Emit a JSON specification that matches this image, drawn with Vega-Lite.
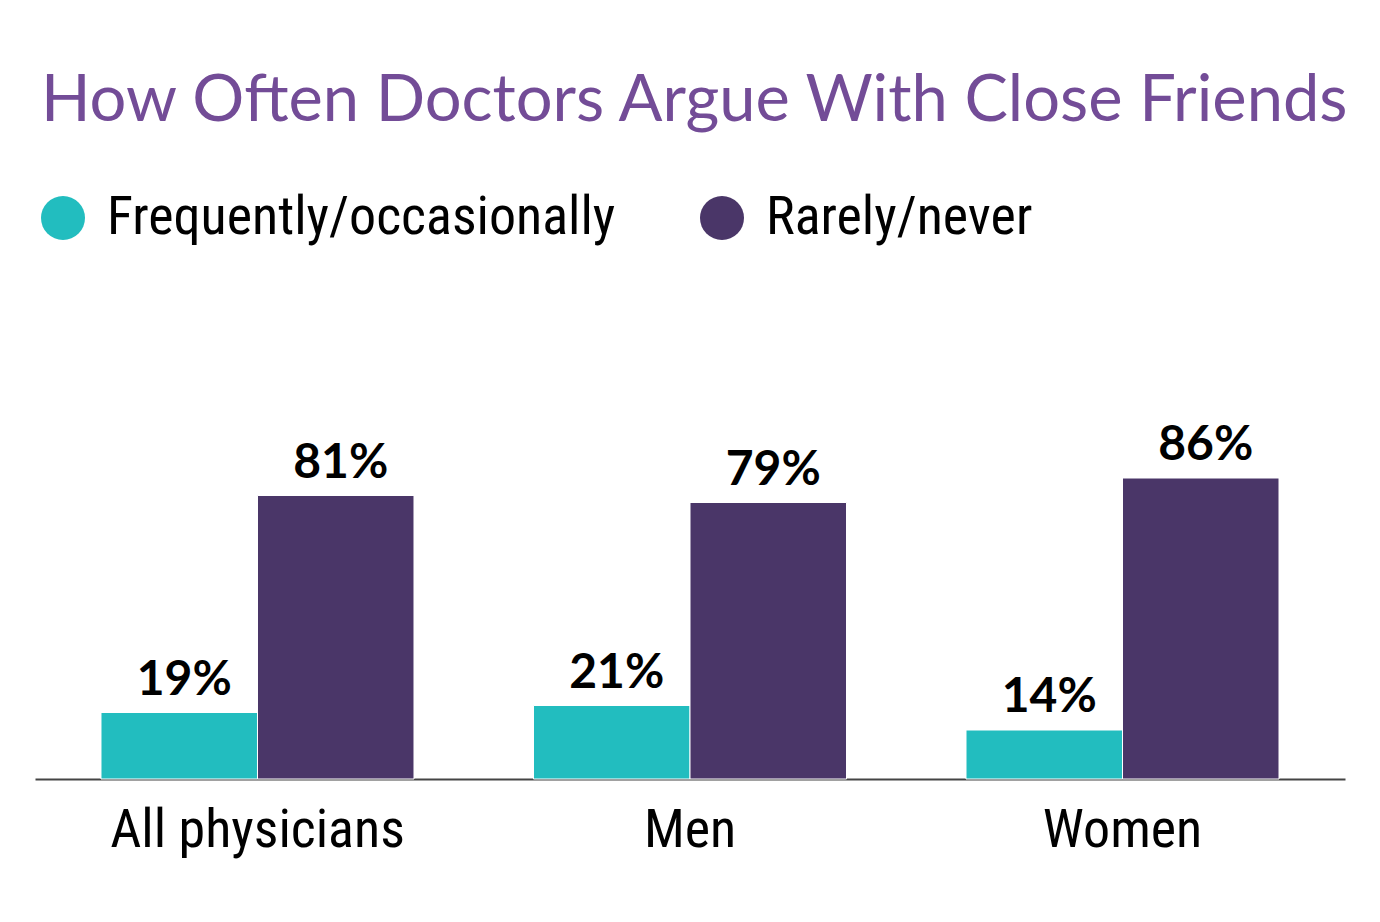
{
  "$schema": "https://vega.github.io/schema/vega-lite/v6.json",
  "width": 1310,
  "height": 350,
  "autosize": {"type": "none"},
  "padding": {"left": 35, "top": 429, "right": 35, "bottom": 143},
  "background": "white",
  "title": {
    "text": "How Often Doctors Argue With Close Friends",
    "anchor": "start",
    "frame": "group",
    "orient": "top",
    "font": "Lato",
    "fontSize": 65,
    "fontWeight": "normal",
    "color": "#734c97",
    "dx": 6,
    "baseline": "alphabetic",
    "offset": 5
  },
  "data": {
    "values": [
      {"group": "All physicians", "series": "Frequently/occasionally", "value": 19, "label": "19%"},
      {"group": "All physicians", "series": "Rarely/never", "value": 81, "label": "81%"},
      {"group": "Men", "series": "Frequently/occasionally", "value": 21, "label": "21%"},
      {"group": "Men", "series": "Rarely/never", "value": 79, "label": "79%"},
      {"group": "Women", "series": "Frequently/occasionally", "value": 14, "label": "14%"},
      {"group": "Women", "series": "Rarely/never", "value": 86, "label": "86%"}
    ]
  },
  "encoding": {
    "x": {
      "field": "group",
      "type": "nominal",
      "sort": ["All physicians", "Men", "Women"],
      "scale": {"paddingInner": 0.2763, "paddingOuter": 0.1526},
      "axis": {
        "title": null,
        "labelAngle": 0,
        "labelFont": "Roboto Condensed, Liberation Sans Narrow, DejaVu Sans Condensed, Roboto",
        "labelFontSize": 54,
        "labelColor": "#000000",
        "labelPadding": 24,
        "labelLimit": 600,
        "ticks": false,
        "domainColor": "#444444",
        "domainWidth": 2,
        "grid": false
      }
    },
    "xOffset": {"field": "series", "type": "nominal", "sort": ["Frequently/occasionally", "Rarely/never"], "scale": {"paddingInner": 0, "paddingOuter": 0}},
    "y": {
      "field": "value",
      "type": "quantitative",
      "scale": {"domain": [0, 100]},
      "axis": null
    }
  },
  "layer": [
    {
      "mark": {"type": "bar", "stroke": "white", "strokeWidth": 1},
      "encoding": {
        "color": {
          "field": "series",
          "type": "nominal",
          "sort": ["Frequently/occasionally", "Rarely/never"],
          "scale": {"domain": ["Frequently/occasionally", "Rarely/never"], "range": ["#22bdbf", "#4a3668"]},
          "legend": {
            "title": null,
            "orient": "none",
            "direction": "horizontal",
            "padding": 0,
            "legendX": 1,
            "legendY": -238,
            "symbolType": "circle",
            "symbolSize": 1936,
            "symbolStrokeWidth": 0,
            "symbolOpacity": 1,
            "labelFont": "Roboto Condensed, Liberation Sans Narrow, DejaVu Sans Condensed, Roboto",
            "labelFontSize": 54,
            "labelColor": "#000000",
            "labelOffset": 17,
            "labelLimit": 800,
            "columnPadding": 79
          }
        }
      }
    },
    {
      "mark": {
        "type": "text",
        "baseline": "alphabetic",
        "dy": -18,
        "dx": 5,
        "font": "Lato",
        "fontWeight": "bold",
        "fontSize": 48,
        "color": "#000000"
      },
      "encoding": {
        "text": {"field": "label"}
      }
    }
  ],
  "config": {"view": {"stroke": null}}
}
